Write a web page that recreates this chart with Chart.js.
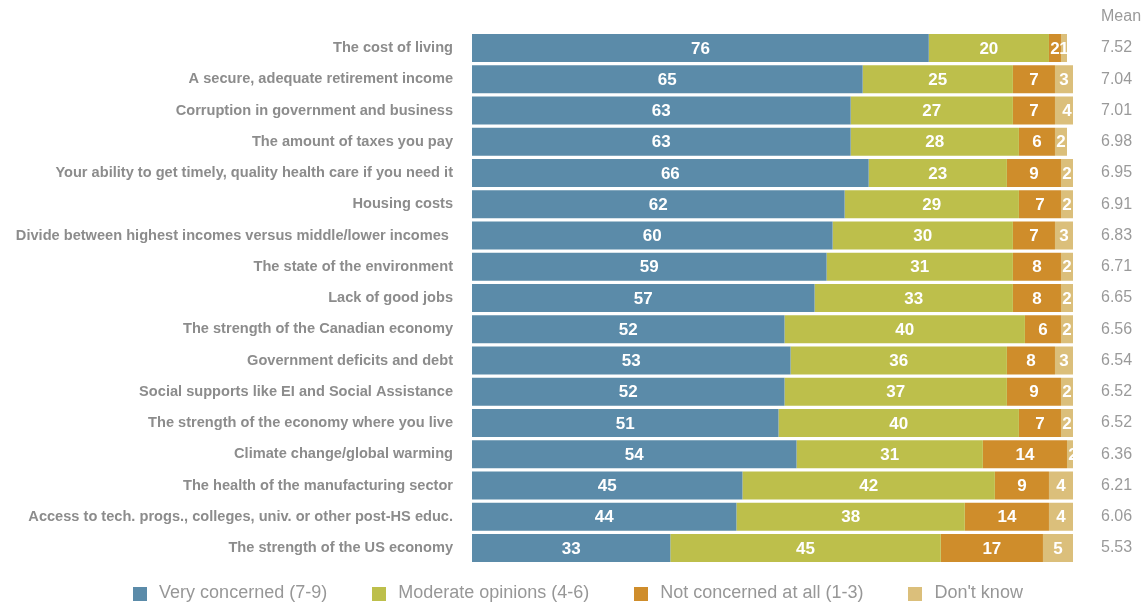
<!DOCTYPE html>
<html>
<head>
<meta charset="utf-8">
<script src="https://cdn.jsdelivr.net/npm/chart.js@4/dist/chart.umd.min.js"></script>
<style>
  html, body { margin: 0; padding: 0; background: #fff; }
  #wrap { position: relative; width: 1146px; height: 603px; }
  #legend {
    position: absolute; left: 0; right: 0; top: 582px; padding-left: 10px;
    display: flex; justify-content: center; gap: 45px;
    font: 18px "Liberation Sans", Arial, Helvetica, sans-serif; color: #979797;
  }
  #legend .item { display: flex; align-items: center; white-space: nowrap; }
  #legend .swatch { width: 14px; height: 14px; margin-right: 12px; margin-top: 2px; }
</style>
</head>
<body>
<div id="wrap">
  <canvas id="concernChart"></canvas>
  <div id="legend"></div>
</div>
<script>
const issues = [
    'The cost of living',
    'A secure, adequate retirement income',
    'Corruption in government and business',
    'The amount of taxes you pay',
    'Your ability to get timely, quality health care if you need it',
    'Housing costs',
    'Divide between highest incomes versus middle/lower incomes ',
    'The state of the environment',
    'Lack of good jobs',
    'The strength of the Canadian economy',
    'Government deficits and debt',
    'Social supports like EI and Social Assistance',
    'The strength of the economy where you live',
    'Climate change/global warming',
    'The health of the manufacturing sector',
    'Access to tech. progs., colleges, univ. or other post-HS educ.',
    'The strength of the US economy'
];
const veryConcerned = [76, 65, 63, 63, 66, 62, 60, 59, 57, 52, 53, 52, 51, 54, 45, 44, 33];
const moderate = [20, 25, 27, 28, 23, 29, 30, 31, 33, 40, 36, 37, 40, 31, 42, 38, 45];
const notConcerned = [2, 7, 7, 6, 9, 7, 7, 8, 8, 6, 8, 9, 7, 14, 9, 14, 17];
const dontKnow = [1, 3, 4, 2, 2, 2, 3, 2, 2, 2, 3, 2, 2, 2, 4, 4, 5];
const means = ['7.52', '7.04', '7.01', '6.98', '6.95', '6.91', '6.83', '6.71', '6.65', '6.56', '6.54', '6.52', '6.52', '6.36', '6.21', '6.06', '5.53'];

const FONT = '"Liberation Sans", Arial, Helvetica, sans-serif';

// white numbers centred in every segment
const segmentLabels = {
    id: 'segmentLabels',
    afterDatasetsDraw(chart) {
        const ctx = chart.ctx;
        ctx.save();
        ctx.fillStyle = '#ffffff';
        ctx.font = 'bold 17px ' + FONT;
        ctx.textAlign = 'center';
        ctx.textBaseline = 'middle';
        chart.data.datasets.forEach((ds, i) => {
            chart.getDatasetMeta(i).data.forEach((bar, j) => {
                const cx = (bar.x + bar.base) / 2;
                ctx.fillText(ds.data[j], cx, bar.y + 1);
            });
        });
        ctx.restore();
    }
};

// column heading above the means
const meanHeader = {
    id: 'meanHeader',
    afterDraw(chart) {
        const ctx = chart.ctx;
        ctx.save();
        ctx.fillStyle = '#9a9a9a';
        ctx.font = '16px ' + FONT;
        ctx.textAlign = 'left';
        ctx.textBaseline = 'middle';
        ctx.fillText('Mean', chart.chartArea.right + 28, 17);
        ctx.restore();
    }
};

// legend built as html under the bars
const htmlLegend = {
    id: 'htmlLegend',
    afterUpdate(chart) {
        const box = document.getElementById('legend');
        box.innerHTML = '';
        chart.data.datasets.forEach((ds) => {
            const item = document.createElement('div');
            item.className = 'item';
            const swatch = document.createElement('span');
            swatch.className = 'swatch';
            swatch.style.background = ds.backgroundColor;
            item.appendChild(swatch);
            item.appendChild(document.createTextNode(ds.label));
            box.appendChild(item);
        });
    }
};

new Chart('concernChart', {
    type: 'bar',
    data: {
        labels: issues,
        datasets: [
            { label: 'Very concerned (7-9)', data: veryConcerned, backgroundColor: '#5b8ba9' },
            { label: 'Moderate opinions (4-6)', data: moderate, backgroundColor: '#bdbf4b' },
            { label: 'Not concerned at all (1-3)', data: notConcerned, backgroundColor: '#cf8d2b' },
            { label: "Don't know", data: dontKnow, backgroundColor: '#dbbf7b' }
        ]
    },
    options: {
        indexAxis: 'y',
        responsive: true,
        maintainAspectRatio: false,
        animation: false,
        datasets: { bar: { barPercentage: 1, categoryPercentage: 0.9 } },
        layout: { padding: { top: 32.4, right: 0, left: 0, bottom: 39.4 } },
        scales: {
            x: { stacked: true, min: 0, max: 100, display: false },
            y: {
                stacked: true,
                grid: { display: false, drawTicks: false },
                border: { display: false },
                ticks: { color: '#8c8c8c', font: { family: FONT, size: 14.6, weight: 'bold' }, padding: 19 },
                afterFit: (scale) => { scale.width = 472; }
            },
            y2: {
                type: 'category',
                labels: means,
                position: 'right',
                grid: { display: false, drawTicks: false },
                border: { display: false },
                // small lineHeight keeps the wide tick padding from pushing the bars down
                ticks: { color: '#9a9a9a', font: { family: FONT, size: 16, lineHeight: 0.5 }, padding: 28 },
                afterFit: (scale) => { scale.width = 73; }
            }
        },
        plugins: {
            legend: { display: false },
            tooltip: { enabled: false }
        }
    },
    plugins: [segmentLabels, meanHeader, htmlLegend]
});
</script>
</body>
</html>
